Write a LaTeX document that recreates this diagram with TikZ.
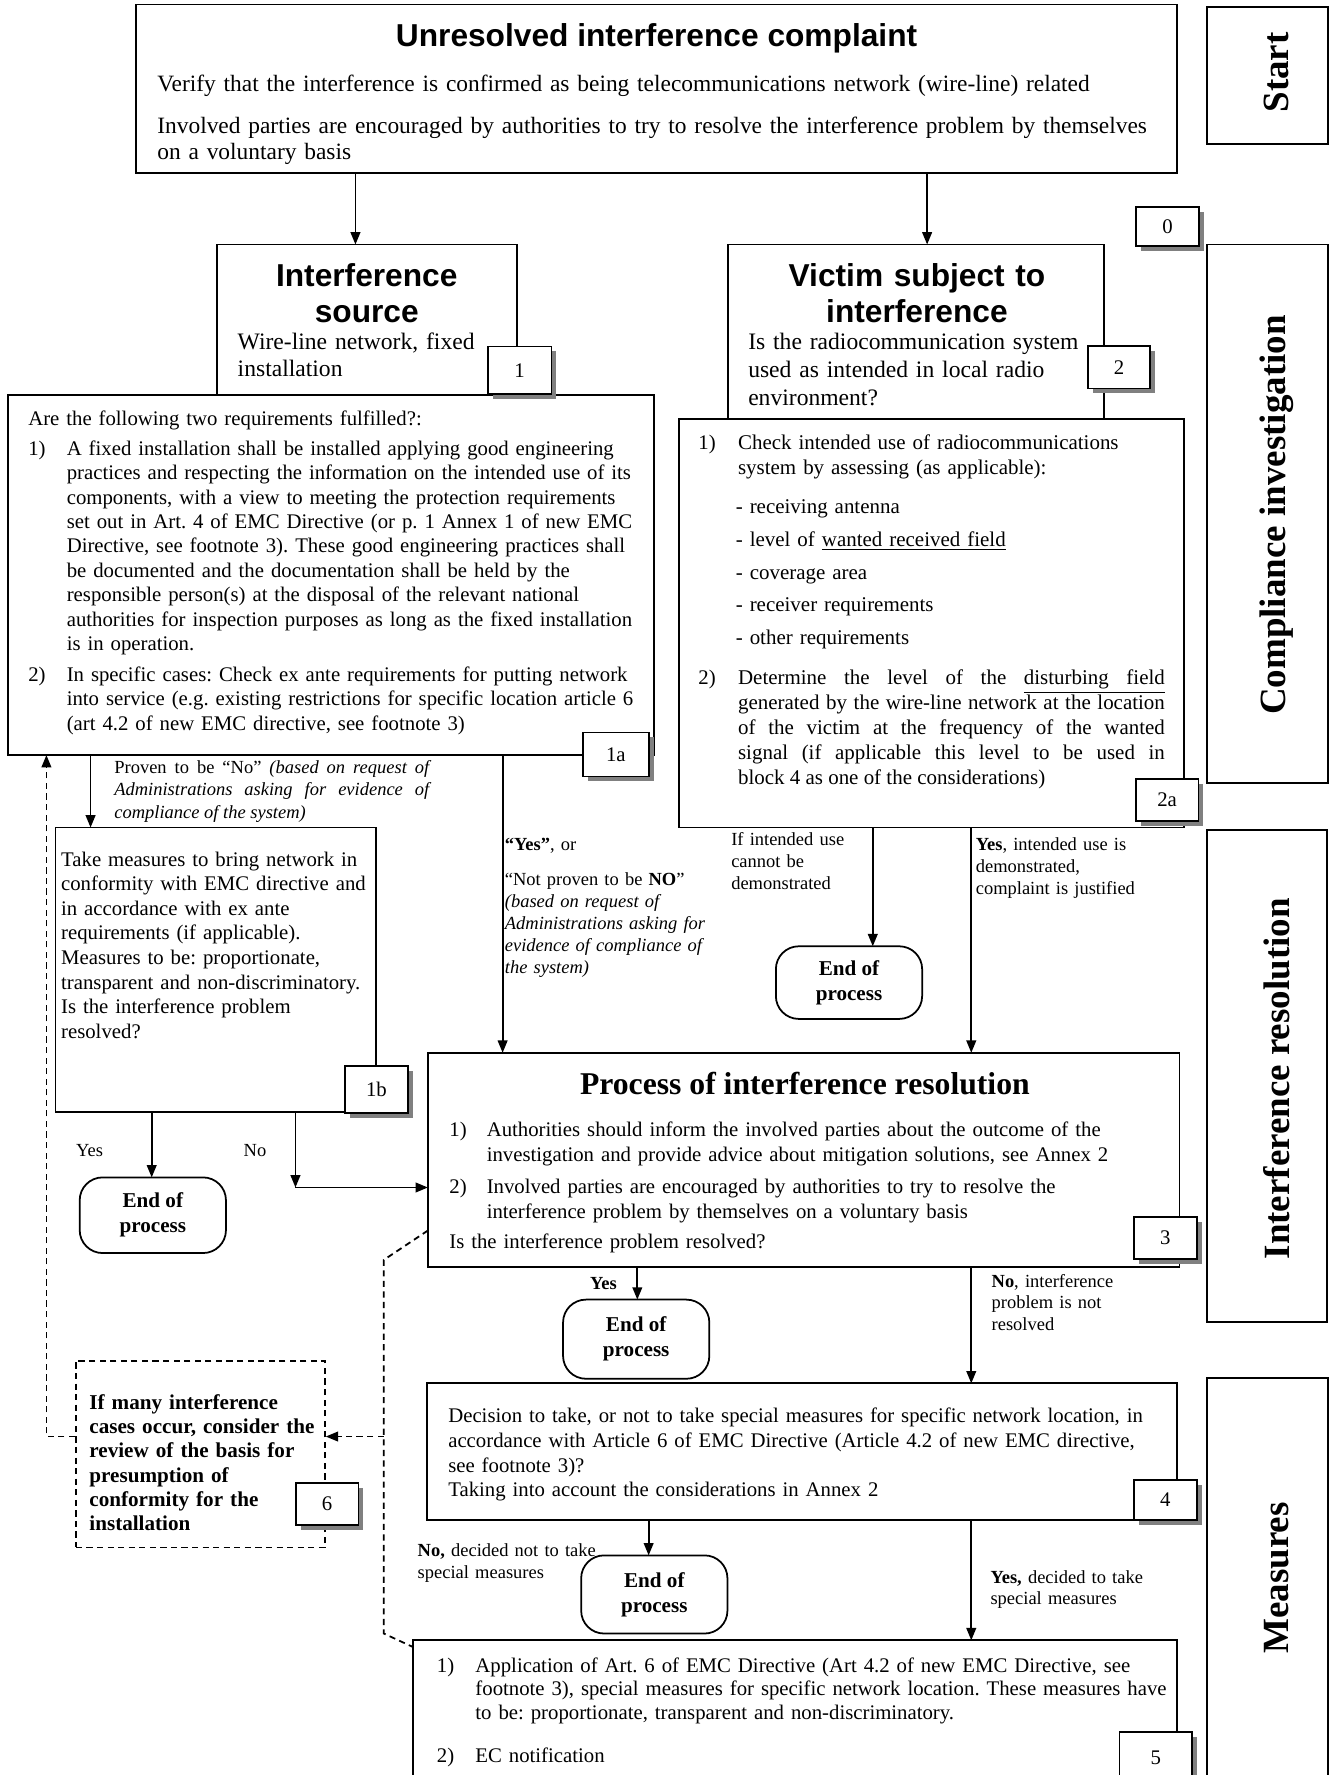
\documentclass[tikz,border=0pt]{standalone}
\usepackage{fontspec}
\setmainfont{Liberation Serif}
\setsansfont{Liberation Sans}
\usetikzlibrary{fit,arrows.meta,shadows}
\frenchspacing

\newcommand{\bodyfont}{\fontsize{11.8}{13.9}\selectfont}
\newcommand{\bigfont}{\fontsize{13.3}{14.8}\selectfont}
\newcommand{\notefont}{\fontsize{10.5}{12.6}\selectfont}
\newcommand{\headfont}{\sffamily\bfseries\fontsize{18}{20.6}\selectfont}
\newcommand{\sidefont}{\bfseries\fontsize{21}{24}\selectfont}
% underlined stretchable gap
\newcommand{\ulgap}{\leaders\hbox{\underline{\vphantom{g}\hskip0.2pt}}\hskip\fontdimen2\font plus\fontdimen3\font minus\fontdimen4\font}

\tikzset{
  box/.style={draw, line width=1pt, fill=white, inner sep=0pt, outer sep=0pt},
  numbox/.style={box, font=\bodyfont, minimum width=1.25cm, minimum height=0.84cm,
    general shadow={fill=black!50, shadow xshift=2.8pt, shadow yshift=-2.8pt}},
  endbox/.style={box, rounded corners=13pt, align=center, minimum width=2.92cm,
    font=\bfseries\fontsize{12}{14.2}\selectfont},
  notebox/.style={draw, line width=1pt, dash pattern=on 3.5pt off 2.5pt, fill=white, inner sep=0pt},
  txt/.style={inner sep=0pt, outer sep=0pt, anchor=base west, align=left, text width=#1},
  txt/.default=25cm,
  jtxt/.style={inner sep=0pt, outer sep=0pt, anchor=base west, align=justify, text width=#1},
  arr/.style={line width=1pt, -{Triangle[length=7pt,width=5.5pt]}},
  dashline/.style={line width=1pt, dash pattern=on 3.5pt off 2.5pt},
}

\begin{document}
\begin{tikzpicture}[x=0.0226cm, y=-0.0226cm]
\useasboundingbox (0,0) rectangle (1175,1568);

% Start
\node[box, fit={(120,4) (1040,153)}] (complaint) {};
\node[font=\headfont, inner sep=0pt, anchor=base] (complainthd) at (580,41) {Unresolved interference complaint};
\node[txt, font=\bigfont] (complainta) at (139,81) {Verify that the interference is confirmed as being telecommunications network (wire-line) related};
\node[txt, font=\bigfont] (complaintb) at (139,118) {Involved parties are encouraged by authorities to try to resolve the interference problem by themselves\\on a voluntary basis};

\node[box, fit={(1066,6) (1173,127)}] (startbox) {};
\node[rotate=90, font=\sidefont, inner sep=0pt] (startlbl) at (1128,64) {Start};

% Compliance investigation
\node[box, fit={(192,216) (457,349)}] (source) {};
\node[font=\headfont, inner sep=0pt, anchor=base, align=center, text width=6cm] (sourcehd) at (324,253) {Interference\\source};
\node[txt, font=\fontsize{13.4}{15.4}\selectfont] (sourcetx) at (210,309) {Wire-line network, fixed\\installation};

\node[box, fit={(643,216) (975,370)}] (victim) {};
\node[font=\headfont, inner sep=0pt, anchor=base, align=center, text width=7.4cm] (victimhd) at (810,253) {Victim subject to\\interference};
\node[txt, font=\fontsize{13.4}{15.75}\selectfont] (victimtx) at (661,309) {Is the radiocommunication system\\used as intended in local radio\\environment?};

\node[box, fit={(7,349) (578,667)}] (check1a) {};
\node[txt, font=\bodyfont] (c1aq) at (25,376) {Are the following two requirements fulfilled?:};
\node[txt, font=\bodyfont] (c1an1) at (25,402) {1)};
\node[txt, font=\bodyfont] (c1ai1) at (59,402) {A fixed installation shall be installed applying good engineering\\
practices and respecting the information on the intended use of its\\
components, with a view to meeting the protection requirements\\
set out in Art. 4 of EMC Directive (or p. 1 Annex 1 of new EMC\\
Directive, see footnote 3). These good engineering practices shall\\
be documented and the documentation shall be held by the\\
responsible person(s) at the disposal of the relevant national\\
authorities for inspection purposes as long as the fixed installation\\
is in operation.};
\node[txt, font=\bodyfont] (c1an2) at (25,602) {2)};
\node[txt, font=\bodyfont] (c1ai2) at (59,602) {In specific cases: Check ex ante requirements for putting network\\
into service (e.g. existing restrictions for specific location article 6\\
(art 4.2 of new EMC directive, see footnote 3)};

\node[box, fit={(600,370) (1046,731)}] (check2a) {};
\node[txt, font=\bodyfont] (c2an1) at (617,397) {1)};
\node[txt, font=\fontsize{11.9}{14.3}\selectfont] (c2ai1) at (652,397) {Check intended use of radiocommunications\\system by assessing (as applicable):};
\node[txt, font=\fontsize{11.9}{18.5}\selectfont] (c2alist) at (650,454) {- receiving antenna\\- level of \underline{wanted received field}\\- coverage area\\- receiver requirements\\- other requirements};
\node[txt, font=\bodyfont] (c2an2) at (617,605) {2)};
\node[jtxt=8.52cm, font=\fontsize{11.9}{14.1}\selectfont] (c2ai2) at (652,605) {Determine the level of the \underline{disturbing}\ulgap\underline{field\vphantom{g}}\linebreak
generated by the wire-line network at the location\linebreak
of the victim at the frequency of the wanted\linebreak
signal (if applicable this level to be used in\linebreak
block 4 as one of the considerations)};

\node[box, fit={(1066,216) (1173,692)}] (compbox) {};
\node[rotate=90, font=\sidefont, inner sep=0pt] (complbl) at (1128,455) {Compliance investigation};

% Interference resolution
\node[box, fit={(49,731) (332,982)}] (measures1b) {};
\node[txt, font=\fontsize{11.8}{14}\selectfont] (m1btx) at (54,765) {Take measures to bring network in\\conformity with EMC directive and\\in accordance with ex ante\\requirements (if applicable).\\Measures to be: proportionate,\\transparent and non-discriminatory.\\Is the interference problem\\resolved?};

\node[jtxt=6.33cm, font=\fontsize{10.5}{12.9}\selectfont] (provenno) at (101,683) {Proven to be “No” \textit{(based on request of}\linebreak
\textit{Administrations asking for evidence of}\linebreak
\textit{compliance of the system)}};

\node[txt, font=\notefont] (yesor) at (446,751) {\textbf{“Yes”}, or};
\node[txt, font=\notefont] (notproven) at (446,782) {“Not proven to be \textbf{NO}”\\\textit{(based on request of}\\\textit{Administrations asking for}\\\textit{evidence of compliance of}\\\textit{the system)}};

\node[txt, font=\notefont] (cannotdemo) at (646,747) {If intended use\\cannot be\\demonstrated};
\node[txt, font=\notefont] (justified) at (862,751) {\textbf{Yes}, intended use is\\demonstrated,\\complaint is justified};

\node[endbox, minimum height=1.51cm] (end1b) at (135,1073.5) {End of\\process};
\node[endbox, minimum height=1.45cm] (end2a) at (750,868) {End of\\process};

\node[font=\notefont, inner sep=0pt, anchor=base west] (yes1b) at (67,1022) {Yes};
\node[font=\notefont, inner sep=0pt, anchor=base west] (no1b) at (215,1022) {No};

\node[box, fit={(378,930) (1042,1119)}] (process) {};
\node[font=\bfseries\fontsize{18}{20}\selectfont, inner sep=0pt, anchor=base] (processhd) at (711,967) {Process of interference resolution};
\node[txt, font=\bodyfont] (pn1) at (397,1004) {1)};
\node[txt, font=\fontsize{11.8}{14.2}\selectfont] (pi1) at (430,1004) {Authorities should inform the involved parties about the outcome of the\\investigation and provide advice about mitigation solutions, see Annex 2};
\node[txt, font=\bodyfont] (pn2) at (397,1054) {2)};
\node[txt, font=\fontsize{11.8}{14.6}\selectfont] (pi2) at (430,1054) {Involved parties are encouraged by authorities to try to resolve the\\interference problem by themselves on a voluntary basis};
\node[txt, font=\bodyfont] (pq) at (397,1103) {Is the interference problem resolved?};

\node[box, fit={(1066,733) (1172,1168)}] (resbox) {};
\node[rotate=90, font=\sidefont, inner sep=0pt] (reslbl) at (1128,953) {Interference resolution};

\node[font=\bfseries\fontsize{10.5}{12}\selectfont, inner sep=0pt] (yes3) at (533,1134) {Yes};
\node[txt, font=\fontsize{10.5}{12.2}\selectfont] (notresolved) at (876,1137) {\textbf{No}, interference\\problem is not\\resolved};
\node[endbox, minimum height=1.58cm] (end3) at (562,1183) {End of\\process};

% Measures
\node[box, fit={(377,1222) (1040,1343)}] (decision) {};
\node[txt, font=\fontsize{11.8}{13.95}\selectfont] (dectx) at (396,1257) {Decision to take, or not to take special measures for specific network location, in\\accordance with Article 6 of EMC Directive (Article 4.2 of new EMC directive,\\see footnote 3)?\\Taking into account the considerations in Annex 2};

\node[txt, font=\fontsize{10.5}{12.2}\selectfont] (notake) at (369,1375) {\textbf{No,} decided not to take\\special measures};
\node[txt, font=\fontsize{10.5}{11.8}\selectfont] (dotake) at (875,1399) {\textbf{Yes,} decided to take\\special measures};
\node[endbox, minimum height=1.56cm] (end4) at (578,1408.5) {End of\\process};

\node[box, fit={(365,1449) (1040,1600)}] (special) {};
\node[txt, font=\bodyfont] (sn1) at (386,1477) {1)};
\node[txt, font=\fontsize{11.8}{13.5}\selectfont] (si1) at (420,1477) {Application of Art. 6 of EMC Directive (Art 4.2 of new EMC Directive, see\\footnote 3), special measures for specific network location. These measures have\\to be: proportionate, transparent and non-discriminatory.};
\node[txt, font=\bodyfont] (sn2) at (386,1557) {2)};
\node[txt, font=\bodyfont] (si2) at (420,1557) {EC notification};

\node[notebox, fit={(67,1202) (287,1367)}] (review) {};
\node[txt, font=\bfseries\fontsize{12}{13.8}\selectfont] (reviewtx) at (79,1245) {If many interference\\cases occur, consider the\\review of the basis for\\presumption of\\conformity for the\\installation};

\node[box, fit={(1066,1217) (1173,1600)}] (measbox) {};
\node[rotate=90, font=\sidefont, inner sep=0pt] (measlbl) at (1128,1394) {Measures};

% connectors
\coordinate (xsrc) at (314,0);
\coordinate (xvic) at (819,0);
\coordinate (xno) at (80,0);
\coordinate (xyes) at (444,0);
\coordinate (xend) at (771,0);
\coordinate (xok) at (858,0);
\coordinate (xy1b) at (134,0);
\coordinate (cno) at (261,1049);
\coordinate (xy3) at (563,0);
\coordinate (xn4) at (573,0);

\draw[arr] (complaint.south -| xsrc) -- (source.north -| xsrc);
\draw[arr] (complaint.south -| xvic) -- (victim.north -| xvic);
\draw[arr] (check1a.south -| xno) -- (measures1b.north -| xno);
\draw[arr] (check1a.south -| xyes) -- (process.north -| xyes);
\draw[arr] (check2a.south -| xend) -- (end2a.north -| xend);
\draw[arr] (check2a.south -| xok) -- (process.north -| xok);
\draw[arr] (measures1b.south -| xy1b) -- (end1b.north -| xy1b);
\draw[arr] (measures1b.south -| cno) -- (cno);
\draw[arr] (cno) -- (process.west |- cno);
\draw[arr] (process.south -| xy3) -- (end3.north -| xy3);
\draw[arr] (process.south -| xok) -- (decision.north -| xok);
\draw[arr] (decision.south -| xn4) -- (end4.north -| xn4);
\draw[arr] (decision.south -| xok) -- (special.north -| xok);

% dashed feedback
\coordinate (dtop) at (339,1113);
\coordinate (dmid) at (339,1269);
\coordinate (dbot) at (339,1443);
\coordinate (dleft) at (41,1269);
\draw[dashline] (process.west |- 0,1087) -- (dtop) -- (dbot) -- (special.west |- 0,1455);
\draw[dashline, arr] (dmid) -- (review.east |- dmid);
\draw[dashline, arr] (review.west |- dmid) -- (dleft) -- (check1a.south -| dleft);

% block numbers
\node[numbox, minimum height=0.77cm] (n0) at (1031.5,200) {0};
\node[numbox, minimum width=1.27cm, minimum height=0.95cm] (n1) at (459,327) {1};
\node[numbox] (n2) at (988.5,324.5) {2};
\node[numbox, minimum width=1.31cm, minimum height=0.88cm] (n1a) at (544,666.5) {1a};
\node[numbox] (n2a) at (1031,706.5) {2a};
\node[numbox, minimum height=0.93cm] (n1b) at (332.5,962.5) {1b};
\node[numbox] (n3) at (1029.5,1093.5) {3};
\node[numbox, minimum height=0.81cm] (n4) at (1029.5,1325) {4};
\node[numbox] (n6) at (289,1328.5) {6};
\node[numbox, minimum width=1.45cm, minimum height=1.02cm] (n5) at (1021,1552.5) {5};
\end{tikzpicture}
\end{document}
